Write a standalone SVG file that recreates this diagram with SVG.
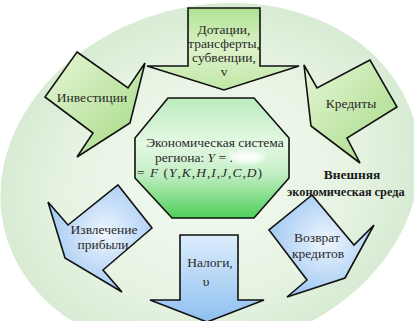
<svg xmlns="http://www.w3.org/2000/svg" width="414" height="321" viewBox="0 0 414 321">
  <defs>
    <radialGradient id="bgGrad" cx="0.5" cy="0.5" r="0.5">
      <stop offset="0" stop-color="#f4faf2"/>
      <stop offset="0.7" stop-color="#e6f3e2"/>
      <stop offset="1" stop-color="#d8ebd3"/>
    </radialGradient>
    <linearGradient id="octGrad" x1="0" y1="0" x2="0" y2="1">
      <stop offset="0" stop-color="#bcebbd"/>
      <stop offset="0.38" stop-color="#e4f8e4"/>
      <stop offset="0.62" stop-color="#c6efc7"/>
      <stop offset="1" stop-color="#4ecf59"/>
    </linearGradient>
    <linearGradient id="greenDiag" x1="0" y1="0" x2="1" y2="1">
      <stop offset="0" stop-color="#e6f6d6"/>
      <stop offset="1" stop-color="#a4d984"/>
    </linearGradient>
    <linearGradient id="greenTop" x1="0" y1="0" x2="0" y2="1">
      <stop offset="0" stop-color="#b0e192"/>
      <stop offset="0.5" stop-color="#ddf2ca"/>
      <stop offset="1" stop-color="#c0e7a4"/>
    </linearGradient>
    <radialGradient id="blueRad" cx="0.55" cy="0.45" r="0.6">
      <stop offset="0" stop-color="#eef5fd"/>
      <stop offset="1" stop-color="#9cc6f2"/>
    </radialGradient>
    <linearGradient id="blueTop" x1="0" y1="0" x2="0" y2="1">
      <stop offset="0" stop-color="#dcedfc"/>
      <stop offset="1" stop-color="#8fc0f0"/>
    </linearGradient>
    <filter id="blur" x="-50%" y="-50%" width="200%" height="200%">
      <feGaussianBlur stdDeviation="2.5"/>
    </filter>
    <style>
      .shape { stroke: #111; stroke-width: 1.6; stroke-linejoin: miter; }
      .t { font-size: 13.5px; fill: #2a2a2a; text-anchor: middle; }
      .tb { font-size: 13.5px; font-weight: bold; fill: #1a1a1a; }
      .i { font-style: italic; }
    </style>
  </defs>

  <rect x="0" y="0" width="414" height="321" fill="#ffffff"/>
  <ellipse id="environment" cx="210" cy="178" rx="212" ry="172" transform="rotate(-15 210 178)" fill="url(#bgGrad)"/>

  <g id="connectors"/>

  <g font-family="'Liberation Serif', 'Times New Roman', 'DejaVu Serif', serif">
  <g id="n-dotacii">
    <path class="shape" d="M188,8 H260 V66 H299 L224,90 L147,66 H188 Z" fill="url(#greenTop)"/>
    <text class="t" x="224" y="34">Дотации,</text>
    <text class="t" x="224" y="48">трансферты,</text>
    <text class="t" x="224" y="62">субвенции,</text>
    <text class="t" x="224" y="76">v</text>
  </g>

  <g id="n-invest">
    <polygon class="shape" points="77,52 128,88 145,63 130,123 77,157 93,133 45,97" fill="url(#greenDiag)"/>
    <text class="t" x="92" y="102">Инвестиции</text>
  </g>

  <g id="n-kredity">
    <polygon class="shape" points="370,60 317,88 304,65 311,126 360,163 347,138 397,107" fill="url(#greenDiag)"/>
    <text class="t" x="351" y="108">Кредиты</text>
  </g>

  <g id="n-economy">
    <polygon class="shape" points="168,98 254,98 289,138 289,178 254,218 172,218 135,178 135,138" fill="url(#octGrad)"/>
    <ellipse cx="247" cy="157" rx="18" ry="6" fill="#ffffff" opacity="0.9" filter="url(#blur)"/>
    <text class="t" x="215" y="147">Экономическая система</text>
    <text class="t" x="155" y="162" style="text-anchor:start">региона: <tspan class="i">Y</tspan> = .</text>
    <text class="t" x="137" y="177" style="text-anchor:start" textLength="125" lengthAdjust="spacing">= <tspan class="i">F</tspan> (<tspan class="i">Y</tspan>,<tspan class="i">K</tspan>,<tspan class="i">H</tspan>,<tspan class="i">I</tspan>,<tspan class="i">J</tspan>,<tspan class="i">C</tspan>,<tspan class="i">D</tspan>)</text>
  </g>

  <g id="n-izvlech">
    <polygon class="shape" points="118,185 152,228 103,270 122,292 65,258 48,202 68,225" fill="url(#blueRad)"/>
    <text class="t" x="104" y="234">Извлечение</text>
    <text class="t" x="103" y="249">прибыли</text>
  </g>

  <g id="n-nalogi">
    <path class="shape" d="M180,235 H238 V300 H264 L207,322 L150,300 H180 Z" fill="url(#blueTop)"/>
    <text class="t" x="210" y="267">Налоги,</text>
    <text class="t" x="206" y="286">υ</text>
  </g>

  <g id="n-vozvrat">
    <polygon class="shape" points="312,195 354,245 374,225 345,278 287,297 307,280 269,230" fill="url(#blueRad)"/>
    <text class="t" x="317" y="242">Возврат</text>
    <text class="t" x="318" y="258">кредитов</text>
  </g>

  <g id="n-environment-label">
    <text class="tb" x="352" y="179" style="text-anchor:middle">Внешняя</text>
    <text class="tb" x="287" y="196" style="font-size:12.3px">экономическая среда</text>
  </g>
  </g>
</svg>
